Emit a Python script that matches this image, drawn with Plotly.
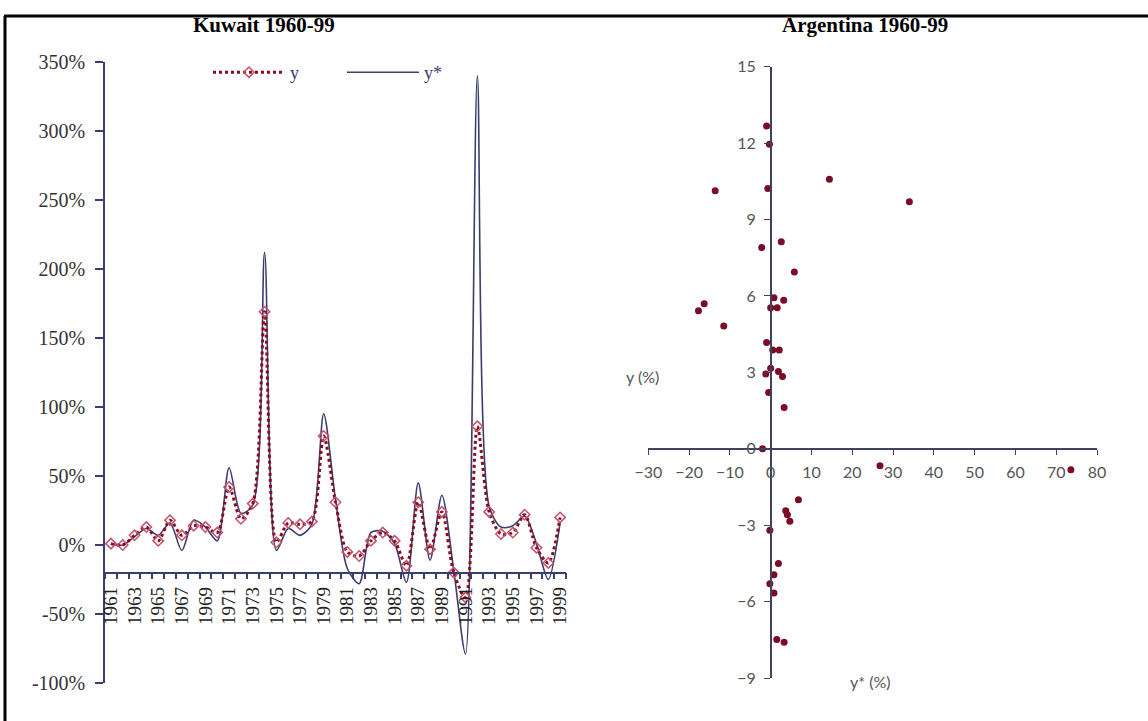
import plotly.graph_objects as go

# ---------------- data ----------------
years = list(range(1961, 2000))
kuwait_y = [1, 0, 7, 13, 3, 18, 7, 14, 13, 9, 42, 19, 30, 169, 2, 16, 15, 17, 79, 31,
            -5, -8, 3, 9, 3, -15, 31, -3, 24, -20, -38, 86, 24, 8, 9, 22, -2, -13, 20]
kuwait_ystar = [1, 0, 6, 12, 7, 16, -4, 18, 13, 3, 56, 23, 29, 212, -4, 12, 7, 15, 95, 33,
                -17, -28, 9, 10, 1, -27, 45, -11, 36, -18, -79, 340, 28, 13, 14, 21, 1, -25, 16]
left_yticks = [-100, -50, 0, 50, 100, 150, 200, 250, 300, 350]
left_xlabels = list(range(1961, 2000, 2))

arg_ystar = [-1.0, -0.3, -13.6, -0.7, 14.4, 34.0, -2.2, 2.6, 5.8, -17.7, -16.3, -11.5, 0.8,
             3.2, 0.0, 1.6, -1.0, 0.5, 2.1, 0.0, 1.9, 2.9, -1.2, -0.5, 3.3, -2.0, 26.8,
             6.8, 3.7, 4.1, 4.7, -0.2, 1.9, 0.8, -0.2, 0.8, 1.5, 3.3, 73.6]
arg_y = [12.67, 11.96, 10.13, 10.22, 10.58, 9.70, 7.9, 8.13, 6.94, 5.42, 5.69, 4.82, 5.93,
         5.83, 5.54, 5.54, 4.17, 3.88, 3.88, 3.16, 3.03, 2.84, 2.94, 2.21, 1.62, 0.0, -0.67,
         -2.0, -2.43, -2.59, -2.85, -3.2, -4.5, -4.95, -5.3, -5.66, -7.49, -7.6, -0.82]
right_xticks = list(range(-30, 81, 10))
right_yticks = list(range(-9, 16, 3))

# ---------------- layout helpers ----------------
W, H = 1148, 721
def px(x): return x / W
def py(y): return 1 - y / H

NAVY = "#3a3e6e"
RED_LINE = "#8b0a1e"
RED_MARK = "#c8506a"
SERIF = "Liberation Serif, Times New Roman, serif"
SANS = "Lato, Noto Sans, sans-serif"

left_range = [-100, 350]
left_dom = [py(683), py(62)]
x_cross = -20
left_xpos = left_dom[0] + (x_cross - left_range[0]) / (left_range[1] - left_range[0]) * (left_dom[1] - left_dom[0])

r_xr = [-30, 80]
r_yr = [-9, 15]
r_xdom = [px(648.3), px(1097)]
r_ydom = [py(678), py(66.7)]
r_xaxis_pos = r_ydom[0] + (0 - r_yr[0]) / (r_yr[1] - r_yr[0]) * (r_ydom[1] - r_ydom[0])
r_yaxis_pos = r_xdom[0] + (0 - r_xr[0]) / (r_xr[1] - r_xr[0]) * (r_xdom[1] - r_xdom[0])

fig = go.Figure()

fig.add_trace(go.Scatter(
    x=years, y=kuwait_ystar, name="y*", mode="lines",
    line=dict(color=NAVY, width=1.6, shape="spline", smoothing=0.8),
    xaxis="x", yaxis="y", legendrank=2,
))
fig.add_trace(go.Scatter(
    x=years, y=kuwait_y, name="y", mode="lines+markers",
    line=dict(color=RED_LINE, width=3, dash="dot", shape="spline", smoothing=0.8),
    marker=dict(symbol="diamond-open", size=8, color=RED_MARK, line=dict(width=1.5, color=RED_MARK)),
    xaxis="x", yaxis="y", legendrank=1,
))
fig.add_trace(go.Scatter(
    x=arg_ystar, y=arg_y, mode="markers", showlegend=False,
    marker=dict(size=7, color="#7b0c25"),
    xaxis="x2", yaxis="y2",
))

def label(text, x, y, font):
    return dict(text=text, x=px(x), y=py(y), xref="paper", yref="paper",
                xanchor="center", yanchor="middle", showarrow=False, font=font)

fig.update_layout(
    width=W, height=H, autosize=False,
    margin=dict(l=0, r=0, t=0, b=0, pad=0, autoexpand=False),
    paper_bgcolor="white", plot_bgcolor="white",
    showlegend=True,
    legend=dict(orientation="h", x=px(208), y=py(54), xanchor="left", yanchor="top",
                font=dict(family=SERIF, size=18, color="#3a3e6e"),
                entrywidth=47, entrywidthmode="pixels", bgcolor="rgba(0,0,0,0)",
                itemwidth=72),
    xaxis=dict(
        domain=[px(105), px(566)], range=[1960.5, 1999.5],
        anchor="free", position=left_xpos,
        tickvals=left_xlabels, ticktext=[str(v) for v in left_xlabels],
        tickangle=-90, ticks="outside", ticklen=6, tickcolor="rgba(0,0,0,0)",
        tickfont=dict(family=SERIF, size=19, color="#222"),
        minor=dict(tickvals=[1960.5 + k for k in range(40)], ticks="outside",
                   ticklen=6, tickcolor=NAVY, tickwidth=1.5, showgrid=False),
        showline=True, linecolor=NAVY, linewidth=1.5,
        showgrid=False, zeroline=False, automargin=False,
    ),
    yaxis=dict(
        domain=left_dom, range=left_range,
        tickvals=left_yticks, ticktext=[f"{v}%" for v in left_yticks],
        ticks="outside", ticklen=8, tickcolor=NAVY, tickwidth=1.5,
        ticklabelstandoff=6,
        tickfont=dict(family=SERIF, size=20, color="#333"),
        showline=True, linecolor=NAVY, linewidth=1.5,
        showgrid=False, zeroline=False, anchor="x", automargin=False,
    ),
    xaxis2=dict(
        domain=r_xdom, range=r_xr, anchor="free", position=r_xaxis_pos,
        tickvals=right_xticks, ticks="outside", ticklen=5, tickcolor="#404060",
        tickfont=dict(family=SANS, size=16, color="#555"),
        ticklabelstandoff=4,
        showline=True, linecolor="#404060", linewidth=1.5,
        showgrid=False, zeroline=False, automargin=False,
    ),
    yaxis2=dict(
        domain=r_ydom, range=r_yr, anchor="free", position=r_yaxis_pos,
        tickvals=right_yticks, ticks="outside", ticklen=6, tickcolor="#404060",
        tickfont=dict(family=SANS, size=16, color="#555"),
        ticklabelstandoff=5,
        showline=True, linecolor="#404060", linewidth=1.5,
        showgrid=False, zeroline=False, automargin=False,
    ),
    annotations=[
        label("<b>Kuwait 1960-99</b>", 264, 25, dict(family=SERIF, size=21, color="black")),
        label("<b>Argentina 1960-99</b>", 865, 25, dict(family=SERIF, size=21, color="black")),
        label("y (%)", 642, 376, dict(family=SANS, size=16, color="#555")),
        label("y* (%)", 870, 681, dict(family=SANS, size=16, color="#555")),
    ],
    shapes=[
        dict(type="line", xref="paper", yref="paper", x0=px(4), x1=1, y0=py(16), y1=py(16),
             line=dict(color="black", width=3)),
        dict(type="line", xref="paper", yref="paper", x0=px(5), x1=px(5), y0=py(16), y1=0,
             line=dict(color="black", width=3)),
    ],
)

fig.write_html("out.html")
